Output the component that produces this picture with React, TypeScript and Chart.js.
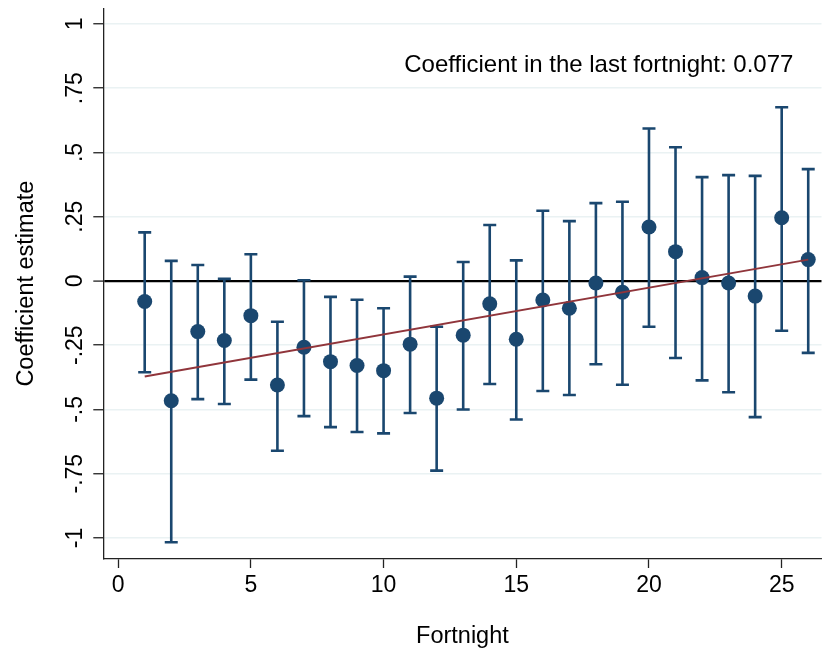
import React, { useEffect, useRef } from "react";
import { Chart, registerables } from "chart.js";

Chart.register(...registerables);

const FONT = '"Liberation Sans", Arial, Helvetica, sans-serif';

const fortnights = [1, 2, 3, 4, 5, 6, 7, 8, 9, 10, 11, 12, 13, 14, 15, 16, 17, 18, 19, 20, 21, 22, 23, 24, 25, 26];
const coefficients = [-0.080, -0.466, -0.197, -0.232, -0.135, -0.405, -0.258, -0.314, -0.329, -0.349, -0.246, -0.456, -0.211, -0.089, -0.227, -0.074, -0.106, -0.008, -0.044, 0.210, 0.114, 0.013, -0.008, -0.059, 0.246, 0.083];
const ciHigh = [0.189, 0.078, 0.062, 0.008, 0.104, -0.159, 0.003, -0.062, -0.073, -0.106, 0.017, -0.178, 0.074, 0.218, 0.080, 0.273, 0.233, 0.303, 0.308, 0.593, 0.520, 0.404, 0.412, 0.409, 0.676, 0.435];
const ciLow = [-0.355, -1.017, -0.460, -0.479, -0.384, -0.661, -0.526, -0.569, -0.588, -0.593, -0.514, -0.738, -0.500, -0.401, -0.539, -0.428, -0.444, -0.324, -0.404, -0.178, -0.300, -0.387, -0.433, -0.530, -0.194, -0.280];

const trendX = [1, 26];
const trendY = [-0.372, 0.083];

const xTicks = [0, 5, 10, 15, 20, 25];
const yTicks = [1, 0.75, 0.5, 0.25, 0, -0.25, -0.5, -0.75, -1];
const yTickLabels = ["1", ".75", ".5", ".25", "0", "-.25", "-.5", "-.75", "-1"];

const annotationText = "Coefficient in the last fortnight: 0.077";

const NAVY = "#1a476f";
const MAROON = "#90353b";

export default function App() {
  const ref = useRef<HTMLCanvasElement>(null);

  useEffect(() => {
    document.body.style.margin = "0";
    const canvas = ref.current;
    if (!canvas) return;

    const errorBars = {
      id: "errorBars",
      beforeDatasetsDraw(chart: any) {
        const { ctx } = chart;
        const xs = chart.scales.x;
        const ys = chart.scales.y;
        ctx.save();
        ctx.strokeStyle = NAVY;
        ctx.lineWidth = 2.6;
        ctx.lineCap = "butt";
        const half = 6.5;
        fortnights.forEach((f, i) => {
          const px = xs.getPixelForValue(f);
          const pHi = ys.getPixelForValue(ciHigh[i]);
          const pLo = ys.getPixelForValue(ciLow[i]);
          ctx.beginPath();
          ctx.moveTo(px, pHi);
          ctx.lineTo(px, pLo);
          ctx.moveTo(px - half, pHi);
          ctx.lineTo(px + half, pHi);
          ctx.moveTo(px - half, pLo);
          ctx.lineTo(px + half, pLo);
          ctx.stroke();
        });
        ctx.restore();
      },
    };

    const textLayer = {
      id: "textLayer",
      afterDraw(chart: any) {
        const { ctx } = chart;
        const xs = chart.scales.x;
        const ys = chart.scales.y;
        ctx.save();
        ctx.fillStyle = "#000";
        ctx.font = `23px ${FONT}`;
        yTicks.forEach((v, i) => {
          const py = ys.getPixelForValue(v);
          ctx.save();
          ctx.translate(ys.right - 21, py);
          ctx.rotate(-Math.PI / 2);
          ctx.textAlign = "center";
          ctx.textBaseline = "alphabetic";
          ctx.fillText(yTickLabels[i], 0, 0);
          ctx.restore();
        });
        ctx.font = `24px ${FONT}`;
        ctx.textAlign = "left";
        ctx.textBaseline = "alphabetic";
        ctx.fillText(annotationText, xs.getPixelForValue(10.78), ys.getPixelForValue(0.813));
        ctx.restore();
      },
    };

    const chart = new Chart(canvas, {
      type: "scatter",
      data: {
        datasets: [
          {
            type: "line",
            data: trendX.map((x, i) => ({ x, y: trendY[i] })),
            borderColor: MAROON,
            borderWidth: 2,
            pointRadius: 0,
            fill: false,
            order: 0,
          },
          {
            type: "scatter",
            data: fortnights.map((x, i) => ({ x, y: coefficients[i] })),
            backgroundColor: NAVY,
            borderColor: NAVY,
            borderWidth: 0,
            pointRadius: 7.5,
            order: 1,
          },
        ] as any,
      },
      options: {
        responsive: false,
        animation: false,
        layout: { padding: { top: 8.3, right: 0, bottom: 0, left: 0 } },
        plugins: { legend: { display: false }, tooltip: { enabled: false } },
        scales: {
          x: {
            type: "linear",
            min: -0.56,
            max: 26.5,
            afterBuildTicks: (s: any) => {
              s.ticks = xTicks.map((v) => ({ value: v }));
            },
            afterFit: (s: any) => {
              s.height = 96;
            },
            grid: {
              display: true,
              drawOnChartArea: false,
              drawTicks: true,
              tickLength: 9,
              tickColor: "#222",
              tickWidth: 1.3,
            },
            border: { display: true, color: "#222", width: 1.3 },
            ticks: {
              color: "#000",
              font: { family: FONT, size: 23 },
              padding: 4,
              maxRotation: 0,
              autoSkip: false,
              callback: (v: any) => String(v),
            },
            title: {
              display: true,
              text: "Fortnight",
              color: "#000",
              font: { family: FONT, size: 23.5 },
              padding: { top: 0, bottom: 4 },
            },
          },
          y: {
            type: "linear",
            min: -1.082,
            max: 1.061,
            afterBuildTicks: (s: any) => {
              s.ticks = yTicks.map((v) => ({ value: v }));
            },
            afterFit: (s: any) => {
              s.width = 103.3;
            },
            grid: {
              color: (c: any) => (c.tick && c.tick.value === 0 ? "#000" : "#eaf2f3"),
              lineWidth: (c: any) => (c.tick && c.tick.value === 0 ? 2.2 : 1.5),
              tickLength: 10,
              tickColor: "#222",
              tickWidth: 1.3,
            },
            border: { display: true, color: "#222", width: 1.3 },
            ticks: { display: false },
            title: {
              display: true,
              text: "Coefficient estimate",
              color: "#000",
              font: { family: FONT, size: 23.5 },
              padding: { top: 12, bottom: 0 },
            },
          },
        },
      } as any,
      plugins: [errorBars, textLayer],
    });

    return () => chart.destroy();
  }, []);

  return (
    <div
      style={{
        position: "fixed",
        left: 0,
        top: 0,
        width: 823,
        height: 655,
        overflow: "hidden",
        background: "#fff",
      }}
    >
      <canvas ref={ref} width={829} height={655} style={{ display: "block" }} />
    </div>
  );
}
